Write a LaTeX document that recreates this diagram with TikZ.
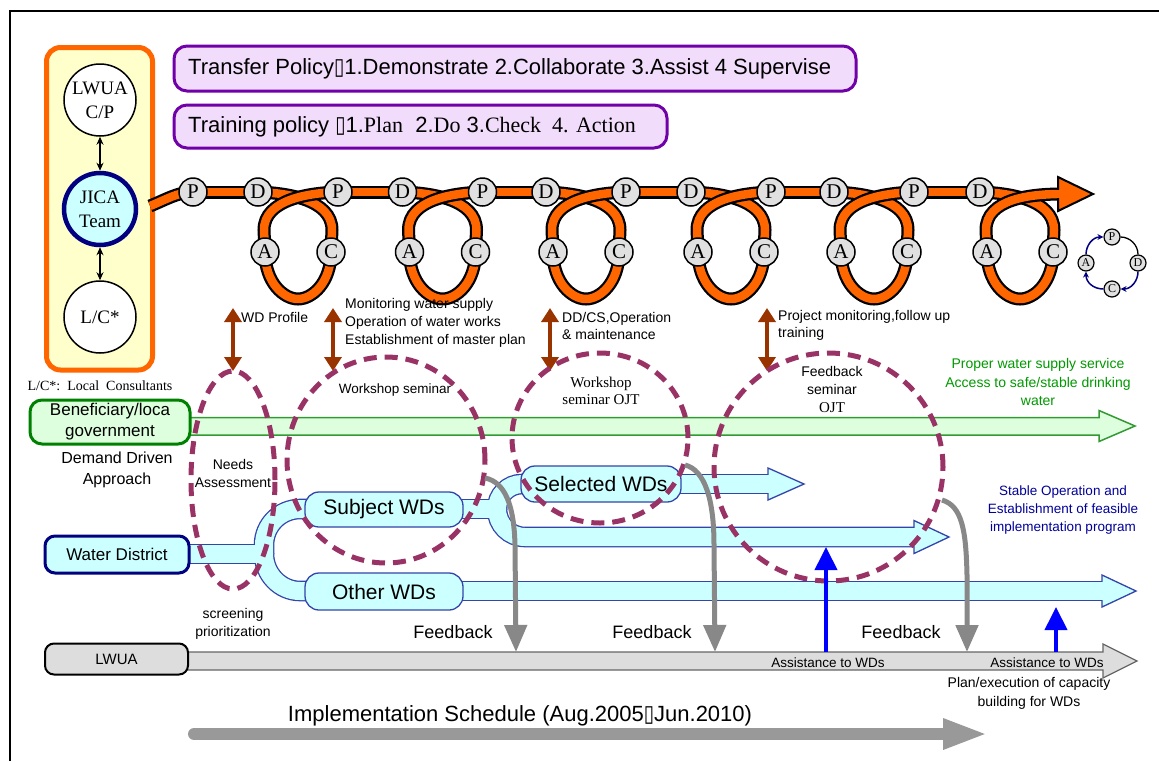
\documentclass[tikz,border=0pt]{standalone}
\usepackage{fontspec}
\usepackage{graphicx}
\setmainfont{Liberation Serif}
\setsansfont{Liberation Sans}
\newfontfamily\symf{DejaVu Sans}
\usetikzlibrary{arrows.meta}
\newcommand\missbox{{\symf\scalebox{0.85}[1.05]{▯}}}
\newcommand\fsz[2]{\fontsize{#1}{#2}\selectfont}
\definecolor{orng}{HTML}{FF6600}
\definecolor{lyel}{HTML}{FFFFCC}
\definecolor{navyb}{HTML}{000080}
\definecolor{lcyan}{HTML}{CCFFFF}
\definecolor{purp}{HTML}{7000A8}
\definecolor{lav}{HTML}{F2DCFB}
\definecolor{brwn}{HTML}{993300}
\definecolor{mrn}{HTML}{993366}
\definecolor{grn}{HTML}{008000}
\definecolor{lgrn}{HTML}{DDFFDD}
\definecolor{grnline}{HTML}{339933}
\definecolor{grntxt}{HTML}{009900}
\definecolor{flowline}{HTML}{3344AA}
\definecolor{gry}{HTML}{888888}
\definecolor{lgry}{HTML}{DDDDDD}
\definecolor{dgry}{HTML}{666666}
\definecolor{bigg}{HTML}{999999}
\definecolor{cgray}{HTML}{E0E0E0}
\definecolor{stxt}{HTML}{000099}
\begin{document}
\begin{tikzpicture}[x=1pt,y=-1pt,
  band/.style={draw=orng, line width=8.5pt, line join=round, preaction={draw=black, line width=13pt}},
  pdca/.style={circle, draw=black, line width=1.5pt, fill=cgray, minimum size=28pt, inner sep=0pt, font=\fsz{21}{21}},
  minic/.style={circle, draw=black, line width=1.2pt, fill=cgray, minimum size=16pt, inner sep=0pt, font=\fsz{12}{12}},
  bigc/.style={circle, draw=black, line width=1.5pt, fill=white, minimum size=72pt, inner sep=0pt, align=center, font=\fsz{19}{24}},
  polbox/.style={draw=purp, line width=3pt, fill=lav, rounded corners=13pt},
  poltxt/.style={anchor=west, inner sep=0pt, font=\sffamily\fsz{22}{24}},
  lbl/.style={inner sep=0pt, align=center, font=\sffamily\fsz{14}{18}},
  lbll/.style={inner sep=0pt, align=left, anchor=west, font=\sffamily\fsz{14}{18}},
  bro/.style={draw=brwn, line width=4pt, {Triangle[length=14pt,width=17pt]}-{Triangle[length=14pt,width=17pt]}},
  ell/.style={draw=mrn, line width=5pt, dash pattern=on 13pt off 8pt},
  fout/.style={draw=flowline, line width=20.6pt},
  fin/.style={draw=lcyan, line width=18pt},
  fhead/.style={fill=lcyan, draw=flowline, line width=1.3pt, line join=miter},
  wdbox/.style={draw=flowline, line width=1.3pt, fill=lcyan, rounded corners=14pt, inner sep=0pt, font=\sffamily\fsz{21}{24}},
  fb/.style={draw=gry, line width=5pt, -{Triangle[length=27pt,width=22pt]}},
  blu/.style={draw=blue, line width=4pt, -{Triangle[length=23pt,width=22pt]}},
  dbl/.style={draw=black, line width=1.3pt, {Stealth[length=8pt,width=7pt]}-{Stealth[length=8pt,width=7pt]}},
  mini/.style={draw=navyb, line width=1.5pt, -{Stealth[length=6pt,width=6pt]}},
]
\useasboundingbox (0,0) rectangle (1159,761);
\fill[white] (0,0) rectangle (1159,761);
% frame
\draw[line width=2pt] (9.5,761) -- (9.5,11) -- (1159,11);

% team box
\draw[draw=orng, line width=5pt, fill=lyel, rounded corners=14pt] (46.5,47.5) rectangle (152.5,370);
\node[bigc] (lwua) at (100,100) {LWUA\\C/P};
\node[bigc, draw=navyb, line width=4.5pt, fill=lcyan] (jica) at (100,209) {JICA\\Team};
\node[bigc] (lc) at (100,317) {L/C*};
\draw[dbl] (lwua) -- (jica);
\draw[dbl] (jica) -- (lc);
\node[inner sep=0pt, font=\fsz{14}{16}] (lcnote) at (100,386) {L/C*:\ \ Local\ \ Consultants};

% policy boxes
\draw[polbox] (174,46) rectangle (856,91);
\node[poltxt] (transfer) at (188,68.5) {Transfer Policy\missbox1.Demonstrate 2.Collaborate 3.Assist 4 Supervise};
\draw[polbox] (174,105) rectangle (667,148);
\node[poltxt] (training) at (188,126.5) {Training policy \missbox1.{\rmfamily Plan}\ \ 2.{\rmfamily Do} 3.{\rmfamily Check\ \ 4. Action}};

% PDCA chain coordinates
\coordinate (pp1) at (193,192);
\foreach \cx [count=\i] in {298,442.5,586,731,874,1020} {
  \coordinate (dd\i) at (\cx-40,192);
  \coordinate (aa\i) at (\cx-33,252);
  \coordinate (cc\i) at (\cx+33,252);
}
\foreach \cx [count=\i from 2] in {298,442.5,586,731,874} {
  \coordinate (pp\i) at (\cx+40,192);
}
% band: start and straight parts
\draw[band] (150,206) .. controls (165,200) and (178,192) .. (pp1);
\foreach \i in {1,...,6} { \draw[band] (pp\i) -- (dd\i); }
% loops
\foreach \cx in {298,442.5,586,731,874} {
  \draw[band] (\cx-40,192) .. controls (\cx-12,193) and (\cx+34,199) .. (\cx+34,230) -- (\cx+33,252) .. controls (\cx+33,283) and (\cx+14,299) .. (\cx,299) .. controls (\cx-14,299) and (\cx-33,283) .. (\cx-33,252);
  \draw[band] (\cx-33,252) -- (\cx-34,230) .. controls (\cx-34,199) and (\cx+12,193) .. (\cx+40,192);
}
\def\cx{1020}
\draw[band] (\cx-40,192) .. controls (\cx-12,193) and (\cx+34,199) .. (\cx+34,230) -- (\cx+33,252) .. controls (\cx+33,283) and (\cx+14,299) .. (\cx,299) .. controls (\cx-14,299) and (\cx-33,283) .. (\cx-33,252);
\draw[band] (\cx-33,252) -- (\cx-34,230) .. controls (\cx-34,199) and (\cx+10,194) .. (1062,194);
\filldraw[fill=orng, draw=black, line width=2pt, line join=miter] (1058,177) -- (1093,194) -- (1058,211) -- cycle;
\draw[orng, line width=8.5pt] (1045,194) -- (1061,194);
% PDCA nodes
\foreach \i in {1,...,6} {
  \node[pdca] (P\i) at (pp\i) {P};
  \node[pdca] (D\i) at (dd\i) {D};
  \node[pdca] (A\i) at (aa\i) {A};
  \node[pdca] (C\i) at (cc\i) {C};
}
% mini cycle
\node[minic] (mp) at (1112,237) {P};
\node[minic] (md) at (1138,263) {D};
\node[minic] (mc) at (1112,289) {C};
\node[minic] (ma) at (1086,263) {A};
\draw[black, line width=1.3pt] (mp.east) .. controls (1130,237) and (1138,245) .. (md.north);
\draw[mini] (md.south) .. controls (1138,281) and (1131,289) .. (mc.east);
\draw[mini] (mc.west) .. controls (1093,289) and (1086,282) .. (ma.south);
\draw[mini] (ma.north) .. controls (1086,245) and (1093,237) .. (mp.west);

% brown arrows
\coordinate (b1t) at (233,308); \coordinate (b1b) at (233,371);
\coordinate (b2t) at (333,308); \coordinate (b2b) at (333,371);
\coordinate (b3t) at (550,308); \coordinate (b3b) at (550,371);
\coordinate (b4t) at (767,308); \coordinate (b4b) at (767,371);
\draw[bro] (b1t) -- (b1b);
\draw[bro] (b2t) -- (b2b);
\draw[bro] (b3t) -- (b3b);
\draw[bro] (b4t) -- (b4b);
\node[lbll] (wdprof) at (241,317) {WD Profile};
\node[lbll] (monit) at (345,322.5) {Monitoring water supply\\Operation of water works\\Establishment of master plan};
\node[lbll, font=\sffamily\fsz{14}{17}] (ddcs) at (562,325.5) {DD/CS,Operation\\\& maintenance};
\node[lbll, font=\sffamily\fsz{14}{17}] (projm) at (778,325.5) {Project monitoring,follow up\\training};

% green arrow
\filldraw[fill=lgrn, draw=grnline, line width=1.5pt] (186,417.5) -- (1099,417.5) -- (1099,410.5) -- (1135,426) -- (1099,441.5) -- (1099,435) -- (186,435) -- cycle;
\node[draw=grn, line width=3pt, fill=lgrn, rounded corners=12pt, minimum width=160pt, minimum height=44pt, align=center, inner sep=0pt, font=\sffamily\fsz{17}{21}] (benef) at (110,422) {Beneficiary/loca\\government};
\node[lbl, text=grntxt, font=\sffamily\fsz{14}{18.5}] (proper) at (1038,382) {Proper water supply service\\Access to safe/stable drinking\\water};
\node[lbl, font=\sffamily\fsz{16}{21}] (demand) at (117,469.5) {Demand Driven\\Approach};

% flows: outlines
\draw[fout] (186,554) -- (264,554);
\draw[fout] (264,554) -- (264,545) .. controls (264,525.1) and (280.1,509) .. (300,509) -- (310,509);
\draw[fout] (264,554) .. controls (264,573.9) and (280.1,591) .. (300,591) -- (310,591);
\draw[fout] (460,509) -- (497,509);
\draw[fout] (497,509) .. controls (497,495.2) and (508.2,484) .. (522,484) -- (525,484);
\draw[fout] (497,509) .. controls (497,524.5) and (509.5,537) .. (525,537) -- (915,537);
\draw[fout] (678,484) -- (769,484);
\draw[fout] (460,591) -- (1103,591);
% heads
\filldraw[fhead] (768,468) -- (804,484) -- (768,500) -- cycle;
\filldraw[fhead] (914,520.5) -- (949,537) -- (914,553.5) -- cycle;
\filldraw[fhead] (1102,575) -- (1136,591) -- (1102,607) -- cycle;
% flows: fills
\draw[fin] (186,554) -- (264,554);
\draw[fin] (264,554) -- (264,545) .. controls (264,525.1) and (280.1,509) .. (300,509) -- (310,509);
\draw[fin] (264,554) .. controls (264,573.9) and (280.1,591) .. (300,591) -- (310,591);
\draw[fin] (460,509) -- (497,509);
\draw[fin] (497,509) .. controls (497,495.2) and (508.2,484) .. (522,484) -- (525,484);
\draw[fin] (497,509) .. controls (497,524.5) and (509.5,537) .. (525,537) -- (916,537);
\draw[fin] (678,484) -- (770,484);
\draw[fin] (460,591) -- (1104,591);
% boxes
\node[draw=navyb, line width=3pt, fill=lcyan, rounded corners=10pt, minimum width=144pt, minimum height=37pt, inner sep=0pt, font=\sffamily\fsz{17}{20}] (water) at (117,554.5) {Water District};
\node[wdbox, minimum width=158pt, minimum height=35pt] (subj) at (384,509.5) {Subject WDs};
\node[wdbox, minimum width=158pt, minimum height=37pt] (other) at (384,591.5) {Other WDs};
\node[wdbox, minimum width=160pt, minimum height=36pt] (selec) at (601,484) {Selected WDs};
\node[lbl, text=stxt, font=\sffamily\fsz{13.5}{18}] (stable) at (1063,510) {Stable Operation and\\Establishment of feasible\\implementation program};

% LWUA arrow
\filldraw[fill=lgry, draw=dgry, line width=1.3pt] (186,652) -- (1103,652) -- (1103,644) -- (1137,661) -- (1103,678) -- (1103,670) -- (186,670) -- cycle;
\node[draw=black, line width=2pt, fill=lgry, rounded corners=9pt, minimum width=143pt, minimum height=31pt, inner sep=0pt, font=\sffamily\fsz{15}{18}] (lwuabox) at (116.5,659) {LWUA};

% dashed ellipses
\draw[ell] (233,480) ellipse [x radius=42pt, y radius=109pt];
\draw[ell] (386,460) ellipse [x radius=99pt, y radius=103pt];
\draw[ell] (600,438) ellipse [x radius=88pt, y radius=85pt];
\draw[ell] (828.5,467) ellipse [x radius=114.5pt, y radius=114pt];
\node[lbl] (needs) at (233,473) {Needs\\Assessment};
\node[lbl, font=\sffamily\fsz{13.5}{18}] (ws2) at (395,390) {Workshop seminar};
\node[inner sep=0pt, align=center, font=\fsz{15}{17}] (ws3) at (601,390.5) {Workshop\\seminar OJT};
\node[lbl] (fbsem) at (832,389.5) {Feedback\\seminar\\{\rmfamily\fsz{15}{18}OJT}};

% feedback arrows
\coordinate (g1s) at (485,478); \coordinate (g1e) at (516,652);
\coordinate (g2s) at (685,465); \coordinate (g2e) at (715,652);
\coordinate (g3s) at (942,500); \coordinate (g3e) at (967,652);
\draw[fb] (g1s) .. controls (505,482) and (514,505) .. (515,545) -- (g1e);
\draw[fb] (g2s) .. controls (705,470) and (714,500) .. (714,545) -- (g2e);
\draw[fb] (g3s) .. controls (962,506) and (966,530) .. (967,575) -- (g3e);
% blue arrows
\coordinate (u1s) at (826,652); \coordinate (u1e) at (826,547);
\coordinate (u2s) at (1056,652); \coordinate (u2e) at (1056,607);
\draw[blu] (u1s) -- (u1e);
\draw[blu] (u2s) -- (u2e);

% bottom labels
\node[lbl, font=\sffamily\fsz{18}{20}] (fb1) at (453,632) {Feedback};
\node[lbl, font=\sffamily\fsz{18}{20}] (fb2) at (652,632) {Feedback};
\node[lbl, font=\sffamily\fsz{18}{20}] (fb3) at (901,632) {Feedback};
\node[lbl] (screen) at (233,624) {screening\\prioritization};
\node[lbl, font=\sffamily\fsz{13.5}{16}] (assist1) at (828,663) {Assistance to WDs};
\node[lbl, font=\sffamily\fsz{13.5}{16}] (assist2) at (1047,663) {Assistance to WDs};
\node[lbl, font=\sffamily\fsz{14}{19}] (planex) at (1029,693.5) {Plan/execution of capacity\\building for WDs};

% implementation schedule
\coordinate (is) at (194,734); \coordinate (ie) at (988,734);
\draw[bigg, line width=12pt, line cap=round, -{Triangle[length=45pt,width=28pt]}] (is) -- (ie);
\node[lbl, font=\sffamily\fsz{22}{24}] (sched) at (520,716) {Implementation Schedule (Aug.2005\missbox Jun.2010)};
\end{tikzpicture}
\end{document}
